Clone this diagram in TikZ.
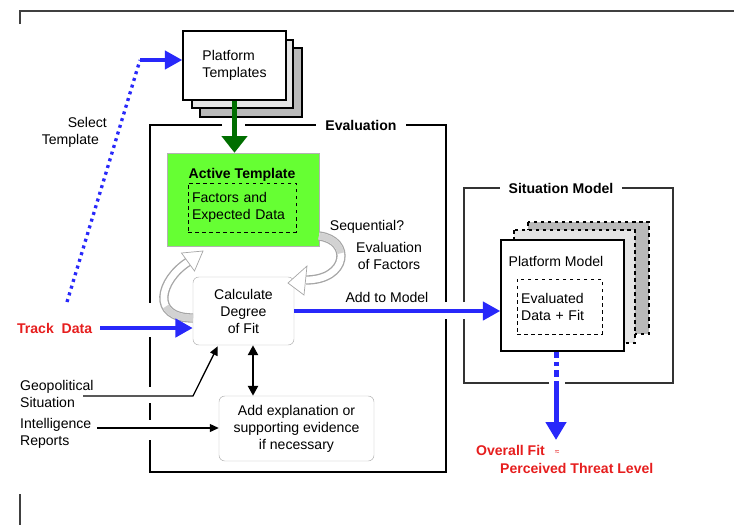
\documentclass[tikz,border=0pt]{standalone}
\usepackage{fontspec}
\setmainfont{Liberation Sans}
\usepackage{xcolor}
\usetikzlibrary{arrows.meta,calc}
\definecolor{trkblue}{RGB}{40,40,250}
\definecolor{fitred}{RGB}{230,30,30}
\definecolor{actgreen}{RGB}{102,255,51}
\definecolor{tmplgreen}{RGB}{0,110,0}

\begin{document}
\begin{tikzpicture}[x=0.03cm, y=-0.03cm,
    every node/.style={font=\fontsize{12}{14.5}\selectfont},
    boldlbl/.style={font=\fontsize{12}{14.5}\selectfont\bfseries},
    redlbl/.style={boldlbl, text=fitred},
    softbox/.style={draw=gray!60, fill=white, rounded corners=5pt, align=center},
    dashbox/.style={draw, dashed, thick, align=left, inner sep=0pt},
    pagebox/.style={draw, line width=1.2pt},
    frameline/.style={line width=2.5pt},
    bluearrow/.style={trkblue, line width=0.14cm, -{Triangle[length=0.52cm, width=0.54cm]}},
    thinarrow/.style={line width=1.1pt, -{Triangle[length=0.27cm, width=0.24cm]}},
    ribbonout/.style={gray!70, line width=0.28cm},
    ribbonin/.style={white, line width=0.2cm},
    ribbonback/.style={gray!35, line width=0.2cm},
    ribbonhead/.style={draw=gray!70, fill=white, line width=0.6pt}]
    \useasboundingbox (0,0) rectangle (734,525);

    \draw[black!75, line width=1.2pt] (20,24) -- (20,11) -- (734,11);
    \draw[black!75, line width=1.2pt] (20,494) -- (20,525);

    \draw[pagebox, fill=gray!55] (200,48) rectangle (302,117);
    \draw[pagebox, fill=gray!20] (192,40) rectangle (293,108);
    \node[pagebox, fill=white, minimum width=3.09cm, minimum height=2.07cm, align=left] (pt) at (234.5,65.5) {Platform\\Templates};

    \node[boldlbl, inner sep=8pt] (evallbl) at (361,125) {Evaluation};
    \draw[frameline] (222,125) -- (150,125) -- (150,303);
    \draw[frameline] (150,337) -- (150,387);
    \draw[frameline] (150,403) -- (150,420);
    \draw[frameline] (150,440) -- (150,472) -- (446,472) -- (446,319);
    \draw[frameline] (446,302) -- (446,125) -- (evallbl.east);
    \draw[frameline] (245,125) -- (evallbl.west);

    \node[draw=gray!60, fill=actgreen, minimum width=4.56cm, minimum height=2.79cm] (active) at (243,199.5) {};
    \node[boldlbl] (actlbl) at (242,175) {Active Template};
    \node[dashbox, minimum width=3.24cm, minimum height=1.47cm, text width=3.0cm] (factors) at (242,207.5) {Factors and\\Expected Data};

    \node[softbox, minimum width=3.03cm, minimum height=2.04cm] (calc) at (243.5,311) {Calculate\\Degree\\of Fit};
    \node[softbox, minimum width=4.65cm, minimum height=1.95cm] (explain) at (296.5,428.5) {Add explanation or\\supporting evidence\\if necessary};

    \draw[ribbonout] (319,236) .. controls (352,240) and (348,280) .. (306,280);
    \draw[ribbonin] (319,236) .. controls (352,240) and (348,280) .. (306,280);
    \draw[ribbonback] (319,236) .. controls (332.2,237.6) and (339.5,245) .. (340.8,253.2);
    \draw[ribbonhead] (288,283) -- (307,266) -- (304,295) -- cycle;
    \draw[ribbonout] (193,318) .. controls (150,318) and (160,280) .. (188,262);
    \draw[ribbonin] (193,318) .. controls (150,318) and (160,280) .. (188,262);
    \draw[ribbonback] (193,318) .. controls (178,318) and (169.4,313.3) .. (165.8,306.5);
    \draw[ribbonhead] (203,251) -- (181.5,253) -- (194.5,271) -- cycle;

    \node (seq) at (367,227) {Sequential?};
    \node[align=center] (evalfac) at (389,256) {Evaluation\\of Factors};

    \draw[tmplgreen, line width=0.13cm, -{Triangle[length=0.5cm, width=0.75cm]}] (pt.south) -- (pt.south |- active.north);

    \coordinate (s0) at (67,302);
    \coordinate (s1) at (140,60);
    \draw[trkblue, line width=0.1cm, dash pattern=on 0.09cm off 0.12cm] (s0) -- (s1);
    \draw[bluearrow, line width=0.12cm] (s1) -- (s1 -| pt.west);
    \node[align=right, anchor=east] (sellbl) at (111,132) {Select\\Template\hspace*{0.24cm}};

    \node[redlbl, anchor=west] (track) at (13,328) {Track~~Data};
    \coordinate (t0) at (100,328);
    \draw[bluearrow] (t0) -- (t0 -| calc.west);

    \node[align=left, anchor=west] (geo) at (16,394) {Geopolitical\\Situation};
    \coordinate (g0) at (83,396);
    \coordinate (g1) at (193,396);
    \draw[thinarrow] (g0) -- (g1) -- ($(calc.south west)+(25,1)$);

    \node[align=left, anchor=west] (intel) at (16,433) {Intelligence\\Reports};
    \coordinate (i0) at (97,428);
    \draw[thinarrow] (i0) -- (i0 -| explain.west);

    \coordinate (c1) at ($(calc.south)+(9.5,0)$);
    \draw[line width=2.2pt, {Triangle[length=0.3cm, width=0.3cm]}-{Triangle[length=0.3cm, width=0.3cm]}] (c1) -- (c1 |- explain.north);

    \node[boldlbl, inner sep=7pt] (smlbl) at (561,188) {Situation Model};
    \draw[black!80, line width=1.3pt] (smlbl.east) -- (673,188) -- (673,383) -- (565,383);
    \draw[black!80, line width=1.3pt] (549,383) -- (464,383) -- (464,319);
    \draw[black!80, line width=1.3pt] (464,302) -- (464,188) -- (smlbl.west);

    \draw[pagebox, dashed, fill=gray!55] (528,222) rectangle (649,334);
    \draw[pagebox, dashed, fill=gray!20] (514,230) rectangle (635,343);
    \node[pagebox, fill=white, minimum width=3.69cm, minimum height=3.33cm] (pm) at (562.5,295.5) {};
    \node (pmlbl) at (556,261) {Platform Model};
    \node[dashbox, minimum width=2.55cm, minimum height=1.65cm, text width=2.3cm] (evaldata) at (559.5,306.5) {Evaluated\\Data + Fit};

    \draw[bluearrow, line width=0.12cm] (calc.east) -- (calc.east -| pm.west) node[pos=0.45, above=2pt, text=black] (addlbl) {Add to Model};

    \coordinate (o0) at ($(pm.south)+(-6.5,0)$);
    \coordinate (o1) at (556,383);
    \coordinate (o2) at (556,440);
    \draw[trkblue, line width=0.15cm, dash pattern=on 0.2cm off 0.12cm on 0.12cm off 0.12cm] (o0) -- (o1);
    \draw[bluearrow, line width=0.15cm, -{Triangle[length=0.54cm, width=0.6cm]}] (o1) -- (o2);

    \node[redlbl, anchor=west] (fit) at (472,450) {Overall Fit};
    \node[text=fitred, font=\fontsize{7}{8}\selectfont, inner sep=1pt] (approx) at (557,452) {≈};
    \node[redlbl, anchor=west] (threat) at (496,468) {Perceived Threat Level};
\end{tikzpicture}
\end{document}
